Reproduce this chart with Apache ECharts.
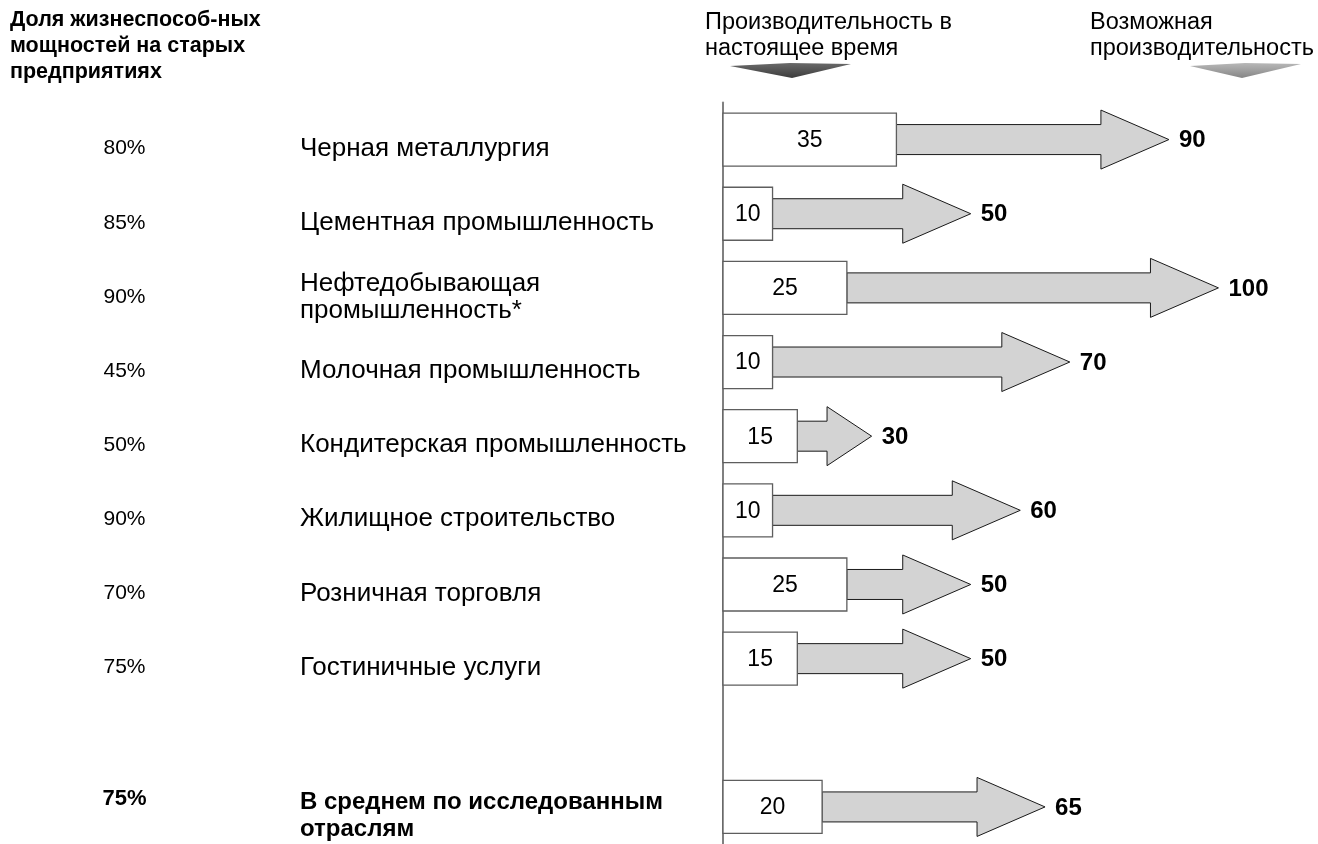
<!DOCTYPE html>
<html><head><meta charset="utf-8">
<script src="https://cdn.jsdelivr.net/npm/echarts@6/dist/echarts.min.js"></script>
<style>html,body{margin:0;padding:0;background:#fff}#c{width:1318px;height:844px}</style>
</head><body><div id="c"></div><script>
// ---- data ----
const categories = [
  'Черная металлургия',
  'Цементная промышленность',
  'Нефтедобывающая\nпромышленность*',
  'Молочная промышленность',
  'Кондитерская промышленность',
  'Жилищное строительство',
  'Розничная торговля',
  'Гостиничные услуги',
  '',
  'В среднем по исследованным\nотраслям'
];
const viableShare = ['80%', '85%', '90%', '45%', '50%', '90%', '70%', '75%', '', '75%'];
const currentProd = [35, 10, 25, 10, 15, 10, 25, 15, null, 20];
const possibleProd = [90, 50, 100, 70, 30, 60, 50, 50, null, 65];
const headerLeft = 'Доля жизнеспособ-ных\nмощностей на старых\nпредприятиях';
const headerCurrent = 'Производительность в\nнастоящее время';
const headerPossible = 'Возможная\nпроизводительность';
const summaryIndex = 9;

const FONT = '"Liberation Sans", Arial, Helvetica, sans-serif';
const chart = echarts.init(document.getElementById('c'), null, {renderer: 'canvas'});

const seriesData = [];
categories.forEach((c, i) => {
  if (currentProd[i] != null) seriesData.push([currentProd[i], possibleProd[i], i]);
});

function boldLines(v) {
  return v.split('\n').map(l => '{b|' + l + '}').join('\n');
}

const option = {
  animation: false,
  backgroundColor: '#fff',
  title: [
    {text: headerLeft, left: 10, top: 7, padding: 0,
     textStyle: {fontFamily: FONT, fontSize: 21.5, fontWeight: 'bold', color: '#000', lineHeight: 26}},
    {text: headerCurrent, left: 705, top: 10, padding: 0,
     textStyle: {fontFamily: FONT, fontSize: 23.5, fontWeight: 'normal', color: '#000', lineHeight: 26}},
    {text: headerPossible, left: 1090, top: 10, padding: 0,
     textStyle: {fontFamily: FONT, fontSize: 23.5, fontWeight: 'normal', color: '#000', lineHeight: 26}}
  ],
  graphic: [
    {type: 'polygon', shape: {points: [[730, 66], [790, 63], [851, 64], [792, 78]]},
     style: {fill: new echarts.graphic.LinearGradient(0, 0, 0, 1, [
       {offset: 0, color: '#6a6a6a'}, {offset: 1, color: '#3c3c3c'}])}},
    {type: 'polygon', shape: {points: [[1190, 66], [1245, 63], [1301, 64], [1242, 78]]},
     style: {fill: new echarts.graphic.LinearGradient(0, 0, 0, 1, [
       {offset: 0, color: '#b8b8b8'}, {offset: 1, color: '#858585'}])}}
  ],
  grid: {left: 723, right: 50, top: 102.5, height: 749, containLabel: false},
  xAxis: {type: 'value', min: 0, max: 110, show: false},
  yAxis: [
    {
      type: 'category', data: categories, inverse: true, position: 'left', offset: 3,
      axisLine: {show: true, lineStyle: {color: '#808080', width: 2}},
      axisTick: {show: false}, splitLine: {show: false},
      axisLabel: {
        interval: 0, margin: 420, align: 'left', padding: [18, 0, 0, 0],
        fontFamily: FONT, fontSize: 26, color: '#000', lineHeight: 27,
        formatter: (v, i) => i === summaryIndex ? boldLines(v) : v,
        rich: {b: {fontFamily: FONT, fontSize: 24, fontWeight: 'bold', color: '#000', lineHeight: 27}}
      }
    },
    {
      type: 'category', data: viableShare, inverse: true, position: 'left', offset: 3,
      axisLine: {show: false}, axisTick: {show: false}, splitLine: {show: false},
      axisLabel: {
        interval: 0, margin: 595.5, align: 'center', padding: [18, 0, 0, 0],
        fontFamily: FONT, fontSize: 21, color: '#000',
        formatter: (v, i) => i === summaryIndex ? '{b|' + v + '}' : v,
        rich: {b: {fontFamily: FONT, fontSize: 22, fontWeight: 'bold', color: '#000', padding: [0, 0, 34, 0]}}
      }
    }
  ],
  series: [{
    type: 'custom',
    yAxisIndex: 0,
    encode: {x: [0, 1], y: 2},
    data: seriesData,
    renderItem: function (params, api) {
      const cur = api.value(0), pos = api.value(1), idx = api.value(2);
      const p0 = api.coord([0, idx]);
      const pc = api.coord([cur, idx]);
      const pt = api.coord([pos, idx]);
      const cy = p0[1];
      const bh = 53, sh = 15, hh = 29.5;
      const len = pt[0] - pc[0];
      const headLen = Math.min(68, len * 0.6);
      const xh = pt[0] - headLen;
      return {
        type: 'group',
        children: [
          {type: 'polygon',
           shape: {points: [[pc[0], cy - sh], [xh, cy - sh], [xh, cy - hh], [pt[0], cy],
                            [xh, cy + hh], [xh, cy + sh], [pc[0], cy + sh]]},
           style: {fill: '#d3d3d3', stroke: '#1a1a1a', lineWidth: 1}},
          {type: 'rect',
           shape: {x: p0[0], y: cy - bh / 2, width: pc[0] - p0[0], height: bh},
           style: {fill: '#fff', stroke: '#5e5e5e', lineWidth: 1.3}},
          {type: 'text',
           style: {text: String(cur), x: (p0[0] + pc[0]) / 2, y: cy + 1, align: 'center', verticalAlign: 'middle',
                   fontFamily: FONT, fontSize: 23, fill: '#000'}},
          {type: 'text',
           style: {text: String(pos), x: pt[0] + 10, y: cy + 1, align: 'left', verticalAlign: 'middle',
                   fontFamily: FONT, fontSize: 24, fontWeight: 'bold', fill: '#000'}}
        ]
      };
    }
  }]
};
chart.setOption(option);
</script></body></html>
